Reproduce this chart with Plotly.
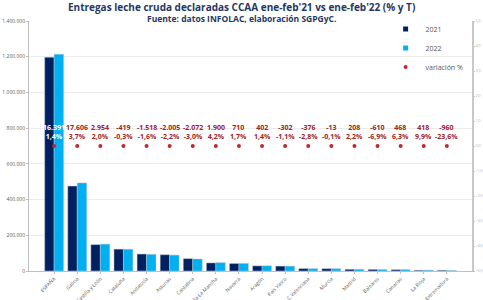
import plotly.graph_objects as go

categorias = ["ESPAÑA", "Galicia", "Castilla y León", "Cataluña", "Andalucía", "Asturias",
              "Cantabria", "Castilla-La Mancha", "Navarra", "Aragón", "País Vasco",
              "C.Valenciana", "Murcia", "Madrid", "Baleares", "Canarias", "La Rioja", "Extremadura"]
t_2021 = [1197000, 475800, 147700, 122400, 94900, 91100, 69100, 45200, 41800, 28700,
          27450, 13430, 13000, 9450, 8840, 7430, 4220, 4070]
t_2022 = [1213391, 493406, 150654, 121981, 93382, 89095, 67028, 47100, 42510, 29102,
          27148, 13054, 12987, 9658, 8230, 7898, 4638, 3110]
dif_t = [16391, 17606, 2954, -419, -1518, -2005, -2072, 1900, 710, 402, -302, -376,
         -13, 208, -610, 468, 418, -960]
var_pct = [1.4, 3.7, 2.0, -0.3, -1.6, -2.2, -3.0, 4.2, 1.7, 1.4, -1.1, -2.8, -0.1,
           2.2, -6.9, 6.3, 9.9, -23.6]
marcador_var = [0, 0, 0, 0, 0, 0, 0, 0, 0, 0, 0, 0, 0, 0, 0, 0, 0, 0]

NAVY = "#002060"
CYAN = "#00B0F0"
RED = "#C0282F"
TXT = "#A3201F"
TITLE = "#1F3864"

def fmt_int(v):
    s = f"{abs(v):,}".replace(",", ".")
    return ("-" if v < 0 else "") + s

def fmt_pct(v):
    return f"{v:.1f}".replace(".", ",") + "%"

fig = go.Figure()
fig.add_trace(go.Bar(x=categorias, y=t_2021, name="2021", legendgroup="a", showlegend=False,
                     marker=dict(color=NAVY, line=dict(color="#b8c4d6", width=0.5))))
fig.add_trace(go.Bar(x=categorias, y=t_2022, name="2022", legendgroup="b", showlegend=False,
                     marker=dict(color=CYAN, line=dict(color="#b8c4d6", width=0.5))))
fig.add_trace(go.Scatter(x=categorias, y=marcador_var, name="variación %", mode="markers",
                         legendgroup="c", showlegend=False,
                         marker=dict(color=RED, size=4), yaxis="y2"))
# legend entries with small square swatches
fig.add_trace(go.Scatter(x=[None], y=[None], name="2021", legendgroup="a", mode="markers",
                         marker=dict(color=NAVY, size=5, symbol="square")))
fig.add_trace(go.Scatter(x=[None], y=[None], name="2022", legendgroup="b", mode="markers",
                         marker=dict(color=CYAN, size=5, symbol="square")))
fig.add_trace(go.Scatter(x=[None], y=[None], name="variación %", legendgroup="c", mode="markers",
                         marker=dict(color=RED, size=4)))

for i, c in enumerate(categorias):
    fig.add_annotation(x=c, y=0, xref="x", yref="y2", yanchor="bottom", yshift=3,
                       text=f"<b>{fmt_int(dif_t[i])}<br>{fmt_pct(var_pct[i])}</b>",
                       showarrow=False, font=dict(size=7, color="white" if i == 0 else TXT,
                                                  family="Open Sans"))

fig.add_annotation(x=0.48, y=1, xref="paper", yref="paper", yanchor="middle", yshift=14,
                   text="<b>Entregas leche cruda declaradas CCAA ene-feb'21 vs ene-feb'22 (% y T)</b>",
                   showarrow=False, font=dict(size=10, color=TITLE, family="Open Sans"))
fig.add_annotation(x=0.48, y=1, xref="paper", yref="paper", yanchor="middle", yshift=3,
                   text="<b>Fuente: datos INFOLAC, elaboración SGPGyC.</b>",
                   showarrow=False, font=dict(size=8.5, color=TITLE, family="Open Sans"))

fig.update_layout(
    width=483, height=300,
    margin=dict(l=29, r=11, t=21, b=29, autoexpand=False),
    paper_bgcolor="white", plot_bgcolor="white",
    separators=",.",
    barmode="group", bargap=0.18, bargroupgap=0.0,
    font=dict(family="Open Sans", color="#595959"),
    xaxis=dict(tickangle=-45, tickfont=dict(size=5, color="#595959"), showline=True, automargin=False,
               linecolor="#bfbfbf", linewidth=1, ticks="outside", ticklen=2, tickcolor="#bfbfbf"),
    yaxis=dict(range=[0, 1400000], dtick=200000, tickformat=",d", tickfont=dict(size=5, color="#595959"),
               gridcolor="#ececec", gridwidth=1, showline=True, linecolor="#bfbfbf", linewidth=1,
               automargin=False, ticks="outside", ticklen=2, tickcolor="#bfbfbf", zeroline=False),
    yaxis2=dict(overlaying="y", side="right", range=[-5, 5], dtick=1, tickformat=".1f",
                tickfont=dict(size=3.5, color="#a6a6a6"), showgrid=False, showline=True, automargin=False,
                linecolor="#c8c8c8", linewidth=2, ticks="outside", ticklen=1, tickcolor="#c8c8c8",
                zeroline=False),
    legend=dict(x=0.805, y=1.026, xanchor="left", yanchor="top", bgcolor="rgba(0,0,0,0)",
                itemwidth=30, font=dict(size=7, color="#595959"), traceorder="normal"),
)

fig.write_html("out.html")
